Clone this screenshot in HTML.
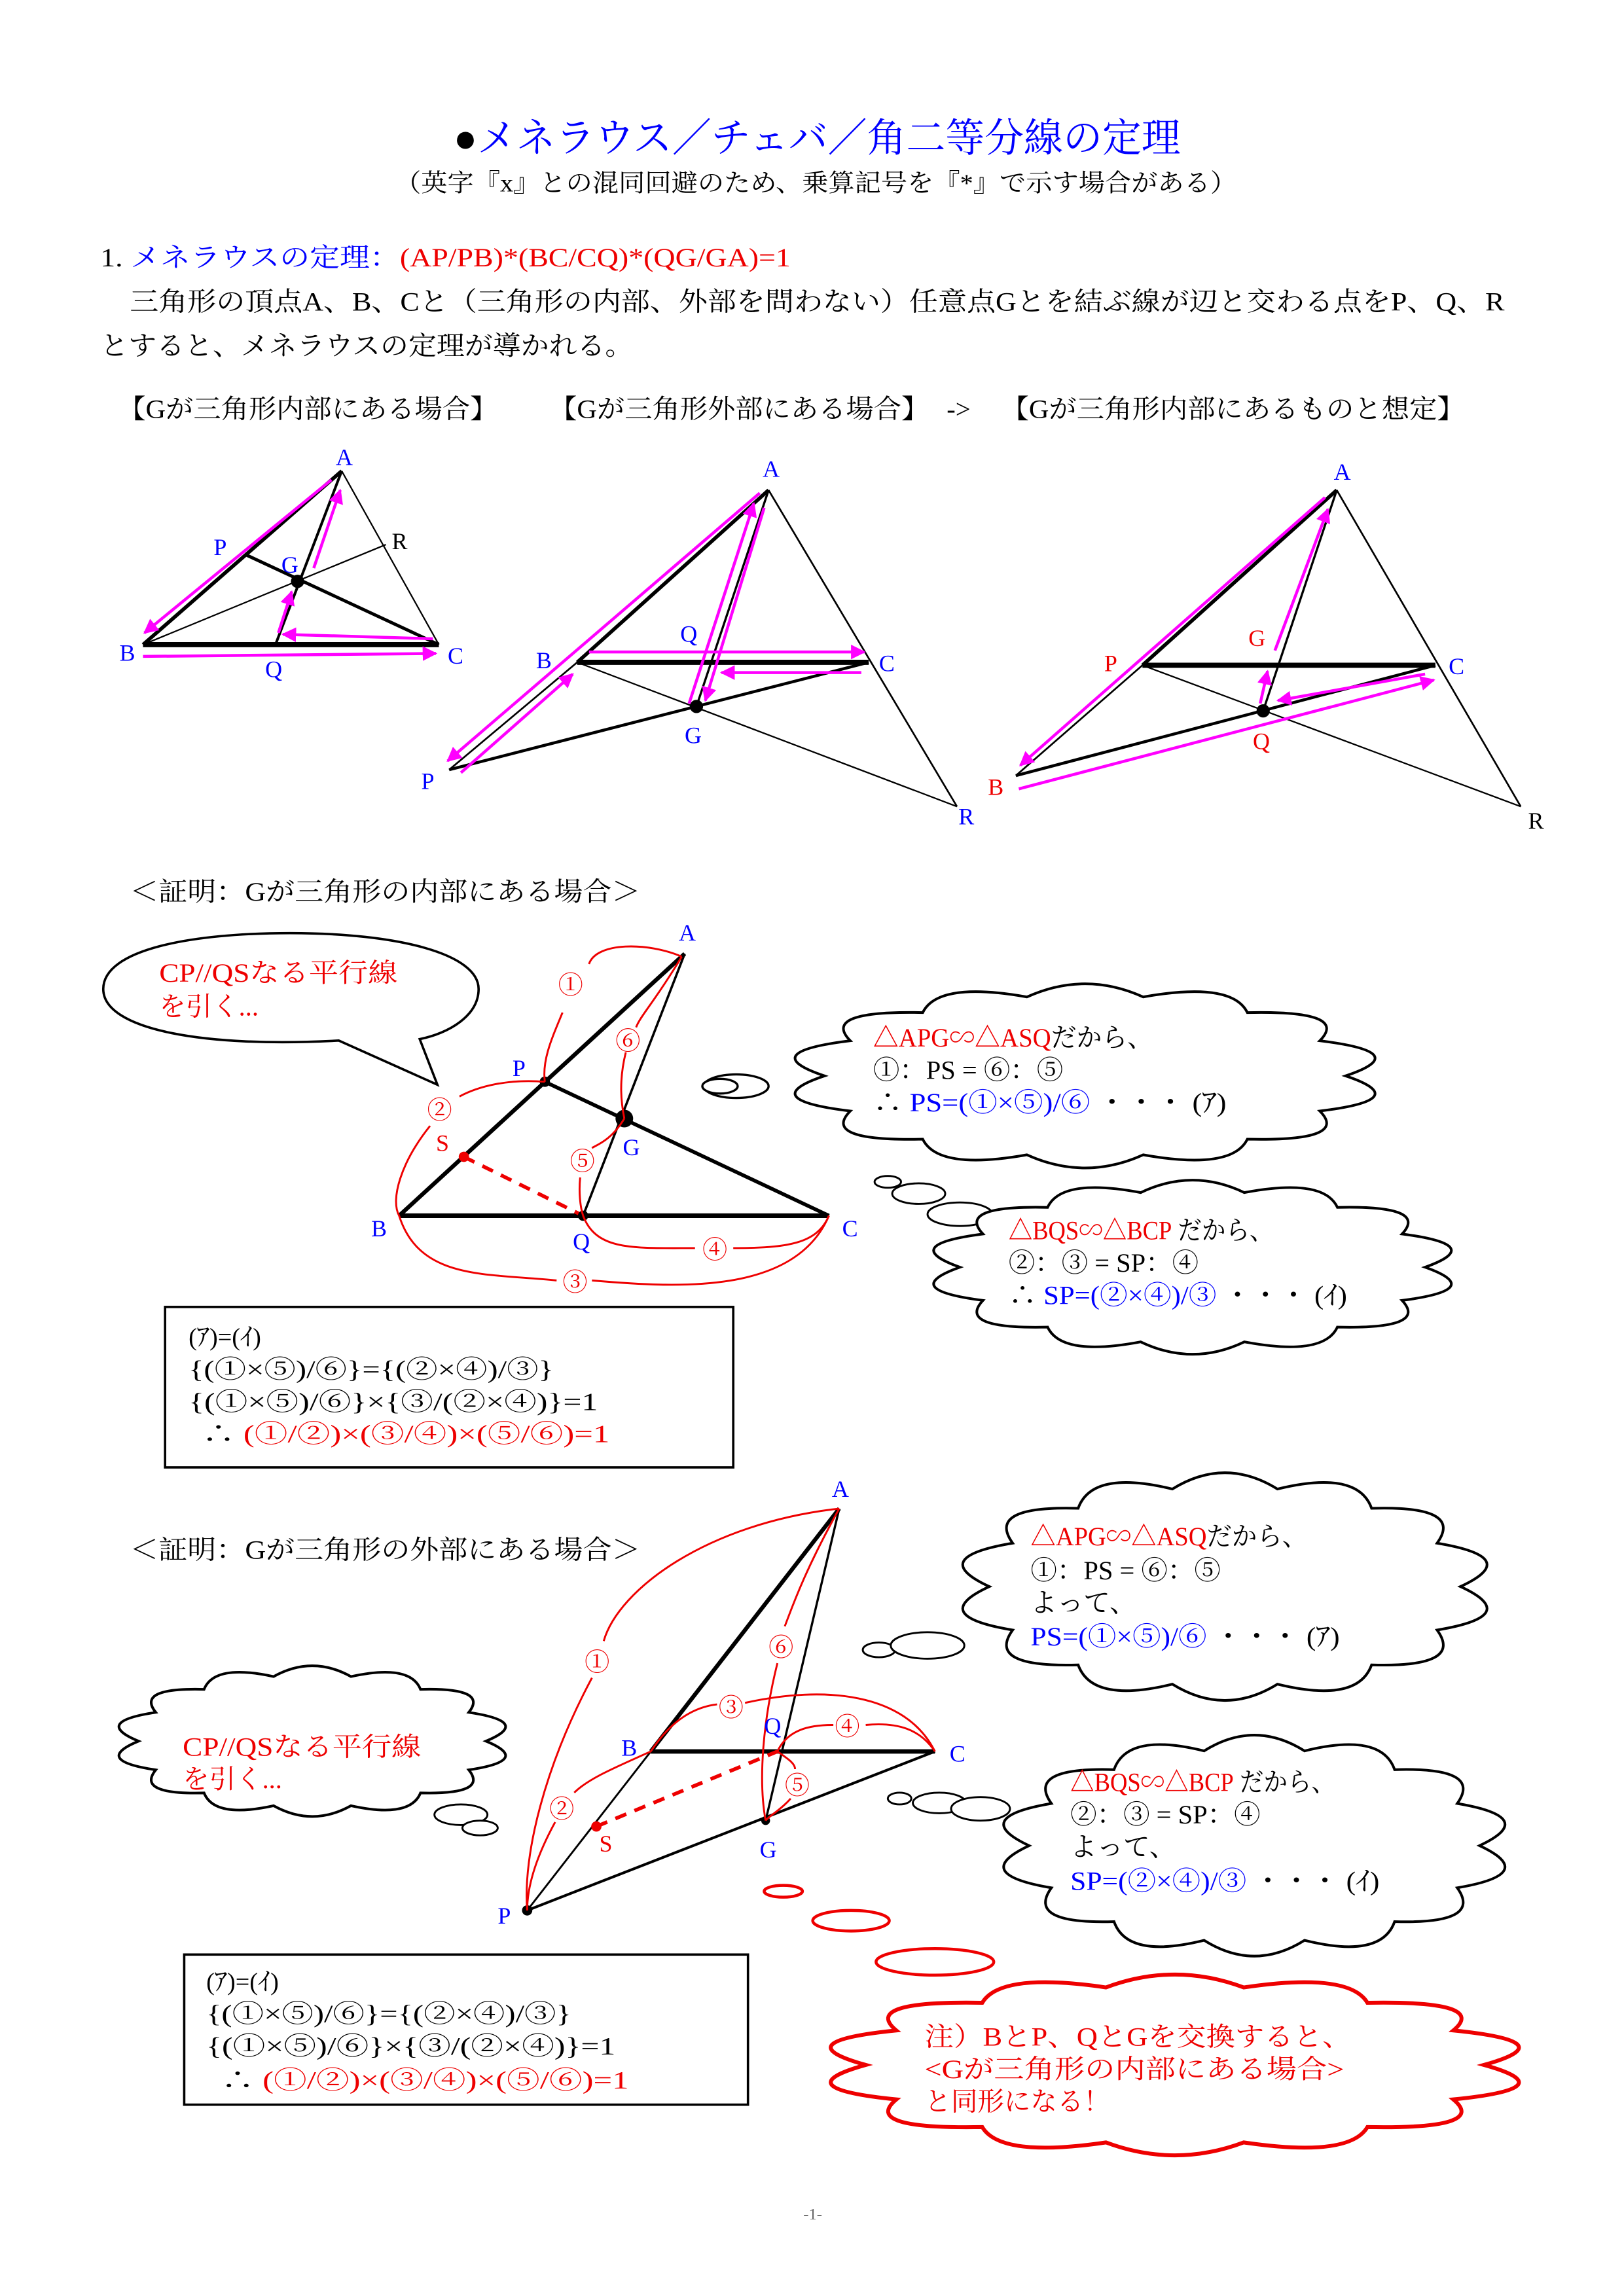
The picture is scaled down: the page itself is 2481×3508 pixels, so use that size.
<!DOCTYPE html>
<html><head><meta charset="utf-8">
<style>
html,body{margin:0;padding:0;background:#fff;}
svg{display:block;}
text{font-family:"Liberation Serif","Noto Serif CJK SC","Noto Sans CJK JP",serif;}
.cl{vector-effect:non-scaling-stroke;}
</style></head>
<body>
<svg width="2481" height="3508" viewBox="0 0 1103 1560" xmlns="http://www.w3.org/2000/svg">
<defs>
<marker id="ah" viewBox="0 0 10 10" refX="9" refY="5" markerWidth="5" markerHeight="5" orient="auto"><path d="M0,0 L10,5 L0,10 z" fill="#f0f"/></marker>
</defs>

<text x="308" y="103" font-size="27" fill="#00f" textLength="494" lengthAdjust="spacingAndGlyphs"><tspan fill="#000">●</tspan>メネラウス／チェバ／角二等分線の定理</text>
<text x="268" y="130" font-size="17" fill="#000" textLength="572" lengthAdjust="spacingAndGlyphs">（英字『x』との混同回避のため、乗算記号を『*』で示す場合がある）</text>

<text x="68" y="181" font-size="18" textLength="469" lengthAdjust="spacingAndGlyphs"><tspan fill="#000">1. </tspan><tspan fill="#00f">メネラウスの定理：</tspan><tspan fill="#e00">(AP/PB)*(BC/CQ)*(QG/GA)=1</tspan></text>
<text x="88" y="211" font-size="18" textLength="934" lengthAdjust="spacingAndGlyphs">三角形の頂点A、B、Cと（三角形の内部、外部を問わない）任意点Gとを結ぶ線が辺と交わる点をP、Q、R</text>
<text x="68" y="241" font-size="18" textLength="362" lengthAdjust="spacingAndGlyphs">とすると、メネラウスの定理が導かれる。</text>

<text x="80" y="284" font-size="18" textLength="258" lengthAdjust="spacingAndGlyphs">【Gが三角形内部にある場合】</text>
<text x="373" y="284" font-size="18" textLength="258" lengthAdjust="spacingAndGlyphs">【Gが三角形外部にある場合】</text>
<text x="643" y="284" font-size="18">-&gt;</text>
<text x="680" y="284" font-size="18" textLength="315" lengthAdjust="spacingAndGlyphs">【Gが三角形内部にあるものと想定】</text>

<g font-size="16" fill="#00f">
<g stroke="#000" fill="none">
<line x1="232" y1="320" x2="97" y2="438" stroke-width="2.5"/>
<line x1="97" y1="438" x2="298" y2="438" stroke-width="3.5"/>
<line x1="232" y1="320" x2="298" y2="438" stroke-width="1"/>
<line x1="167" y1="377" x2="298" y2="438" stroke-width="2.2"/>
<line x1="232" y1="320" x2="187" y2="438" stroke-width="1.8"/>
<line x1="97" y1="438" x2="262" y2="370" stroke-width="1"/>
</g>
<circle cx="202" cy="395" r="4.5" fill="#000"/>
<g stroke="#f0f" stroke-width="2" fill="none" marker-end="url(#ah)">
<line x1="225" y1="326" x2="98" y2="430"/>
<line x1="213" y1="386" x2="231" y2="333"/>
<line x1="189" y1="430" x2="198" y2="402"/>
<line x1="294" y1="434" x2="192" y2="431"/>
<line x1="97" y1="446" x2="296" y2="444"/>
</g>
<text x="228" y="316">A</text><text x="145" y="377">P</text><text x="191" y="389">G</text>
<text x="266" y="373" fill="#000">R</text><text x="81" y="449">B</text><text x="180" y="460">Q</text><text x="304" y="451">C</text>

<g stroke="#000" fill="none">
<line x1="522" y1="333" x2="392" y2="450" stroke-width="2.5"/>
<line x1="392" y1="450" x2="305" y2="523" stroke-width="1.2"/>
<line x1="392" y1="450" x2="590" y2="450" stroke-width="3.5"/>
<line x1="305" y1="523" x2="590" y2="450" stroke-width="2"/>
<line x1="522" y1="333" x2="473" y2="480" stroke-width="1.5"/>
<line x1="392" y1="450" x2="650" y2="548" stroke-width="1"/>
<line x1="522" y1="333" x2="650" y2="548" stroke-width="1.2"/>
</g>
<circle cx="473" cy="480" r="4.5" fill="#000"/>
<g stroke="#f0f" stroke-width="2" fill="none" marker-end="url(#ah)">
<line x1="516" y1="335" x2="304" y2="517"/>
<line x1="313" y1="525" x2="389" y2="458"/>
<line x1="400" y1="443" x2="587" y2="443"/>
<line x1="585" y1="457" x2="490" y2="457"/>
<line x1="468" y1="478" x2="512" y2="342"/>
<line x1="519" y1="345" x2="479" y2="476"/>
</g>
<text x="518" y="324">A</text><text x="364" y="454">B</text><text x="462" y="436">Q</text>
<text x="597" y="456">C</text><text x="465" y="505">G</text><text x="286" y="536">P</text><text x="651" y="560">R</text>

<g stroke="#000" fill="none">
<line x1="908" y1="333" x2="776" y2="452" stroke-width="2.5"/>
<line x1="776" y1="452" x2="690" y2="527" stroke-width="1.2"/>
<line x1="776" y1="452" x2="975" y2="452" stroke-width="3.5"/>
<line x1="690" y1="527" x2="975" y2="452" stroke-width="2"/>
<line x1="908" y1="333" x2="858" y2="483" stroke-width="1.5"/>
<line x1="776" y1="452" x2="1033" y2="548" stroke-width="1"/>
<line x1="908" y1="333" x2="1033" y2="548" stroke-width="1.2"/>
</g>
<circle cx="858" cy="483" r="4.5" fill="#000"/>
<g stroke="#f0f" stroke-width="2" fill="none" marker-end="url(#ah)">
<line x1="900" y1="338" x2="693" y2="520"/>
<line x1="692" y1="536" x2="974" y2="462"/>
<line x1="968" y1="458" x2="868" y2="476"/>
<line x1="856" y1="478" x2="861" y2="456"/>
<line x1="866" y1="442" x2="902" y2="346"/>
</g>
<text x="906" y="326">A</text><text x="848" y="439" fill="#e00">G</text><text x="750" y="456" fill="#e00">P</text>
<text x="984" y="458">C</text><text x="851" y="509" fill="#e00">Q</text><text x="671" y="540" fill="#e00">B</text><text x="1038" y="563" fill="#000">R</text>
</g>

<text x="88" y="612" font-size="18" textLength="347" lengthAdjust="spacingAndGlyphs">＜証明：Gが三角形の内部にある場合＞</text>

<path d="M230,707 C140,712 70,700 70,672 C70,645 130,634 197,634 C270,634 325,648 325,672 C325,690 305,702 285,706 L297,737 Z" fill="#fff" stroke="#000" stroke-width="1.6"/>
<text x="108" y="667" font-size="18" fill="#e00" textLength="162" lengthAdjust="spacingAndGlyphs">CP//QSなる平行線</text>
<text x="108" y="690" font-size="18" fill="#e00">を引く...</text>

<g stroke="#000" fill="none">
<line x1="465" y1="648" x2="271" y2="826" stroke-width="2.8"/>
<line x1="271" y1="826" x2="563" y2="826" stroke-width="3.2"/>
<line x1="370" y1="735" x2="563" y2="826" stroke-width="2.5"/>
<line x1="465" y1="648" x2="396" y2="826" stroke-width="1.6"/>
</g>
<line x1="315" y1="786" x2="396" y2="826" stroke="#e00" stroke-width="2.5" stroke-dasharray="8,6"/>
<circle cx="370" cy="735" r="3.5" fill="#000"/>
<circle cx="424" cy="760" r="6" fill="#000"/>
<circle cx="396" cy="826" r="3.5" fill="#000"/>
<circle cx="315" cy="786" r="3.5" fill="#e00"/>
<g stroke="#e00" stroke-width="1.3" fill="none">
<path d="M463,650 C440,640 405,640 400,655"/>
<path d="M382,688 C375,705 368,720 370,735"/>
<path d="M463,650 C445,680 435,690 432,698"/>
<path d="M425,715 C420,735 422,750 424,760"/>
<path d="M370,735 C345,733 325,738 312,745"/>
<path d="M292,765 C272,790 265,815 271,826"/>
<path d="M271,826 C285,870 330,865 378,870"/>
<path d="M402,870 C460,875 540,880 563,826"/>
<path d="M396,826 C405,850 430,848 472,848"/>
<path d="M498,848 C535,848 555,845 563,826"/>
<path d="M424,760 C415,775 405,778 402,780"/>
<path d="M394,800 C393,810 394,820 396,826"/>
</g>
<g font-size="17" fill="#e00">
<text x="379" y="675">①</text><text x="418" y="713">⑥</text><text x="290" y="760">②</text>
<text x="387" y="795">⑤</text><text x="477" y="855">④</text><text x="382" y="877">③</text>
</g>
<g font-size="16" fill="#00f">
<text x="461" y="639">A</text><text x="348" y="731">P</text><text x="423" y="785">G</text>
<text x="296" y="782" fill="#e00">S</text><text x="252" y="840">B</text><text x="389" y="849">Q</text><text x="572" y="840">C</text>
</g>

<ellipse cx="500" cy="738" rx="22" ry="8" fill="#fff" stroke="#000" stroke-width="1.5"/>
<ellipse cx="489" cy="738" rx="12" ry="5" fill="#fff" stroke="#000" stroke-width="1.5"/>
<path class="cl" transform="translate(737,731) scale(177,55)" fill="#fff" stroke="#000" stroke-width="4" d="M1,0 Q1.268,.290 .901,.434 Q1.017,.810 .623,.782 Q.564,1.171 .223,.975 Q0,1.3 -.223,.975 Q-.564,1.171 -.623,.782 Q-1.017,.810 -.901,.434 Q-1.268,.290 -1,0 Q-1.268,-.290 -.901,-.434 Q-1.017,-.810 -.623,-.782 Q-.564,-1.171 -.223,-.975 Q0,-1.3 .223,-.975 Q.564,-1.171 .623,-.782 Q1.017,-.810 .901,-.434 Q1.268,-.290 1,0 Z"/>
<text x="593" y="711" font-size="18" textLength="190" lengthAdjust="spacingAndGlyphs"><tspan fill="#e00">△APG∽△ASQ</tspan>だから、</text>
<text x="593" y="733" font-size="18">①：PS = ⑥：⑤</text>
<text x="593" y="755" font-size="18" textLength="240" lengthAdjust="spacingAndGlyphs">∴ <tspan fill="#00f">PS=(①×⑤)/⑥</tspan> ・・・ (ｱ)</text>

<ellipse cx="603" cy="803" rx="9" ry="4" fill="#fff" stroke="#000" stroke-width="1.3"/>
<ellipse cx="624" cy="811" rx="18" ry="7" fill="#fff" stroke="#000" stroke-width="1.3"/>
<ellipse cx="652" cy="825" rx="22" ry="8" fill="#fff" stroke="#000" stroke-width="1.3"/>
<path class="cl" transform="translate(810,861) scale(158,52)" fill="#fff" stroke="#000" stroke-width="4" d="M1,0 Q1.268,.290 .901,.434 Q1.017,.810 .623,.782 Q.564,1.171 .223,.975 Q0,1.3 -.223,.975 Q-.564,1.171 -.623,.782 Q-1.017,.810 -.901,.434 Q-1.268,.290 -1,0 Q-1.268,-.290 -.901,-.434 Q-1.017,-.810 -.623,-.782 Q-.564,-1.171 -.223,-.975 Q0,-1.3 .223,-.975 Q.564,-1.171 .623,-.782 Q1.017,-.810 .901,-.434 Q1.268,-.290 1,0 Z"/>
<text x="685" y="842" font-size="18" textLength="180" lengthAdjust="spacingAndGlyphs"><tspan fill="#e00">△BQS∽△BCP</tspan> だから、</text>
<text x="685" y="864" font-size="18">②：③ = SP：④</text>
<text x="685" y="886" font-size="18" textLength="230" lengthAdjust="spacingAndGlyphs">∴ <tspan fill="#00f">SP=(②×④)/③</tspan> ・・・ (ｲ)</text>

<rect x="112" y="888" width="386" height="109" fill="none" stroke="#000" stroke-width="1.6"/>
<g font-size="17">
<text x="128" y="914">(ｱ)=(ｲ)</text>
<text x="128" y="936" textLength="248" lengthAdjust="spacingAndGlyphs">{(①×⑤)/⑥}={(②×④)/③}</text>
<text x="128" y="958" textLength="278" lengthAdjust="spacingAndGlyphs">{(①×⑤)/⑥}×{③/(②×④)}=1</text>
<text x="137" y="980" textLength="277" lengthAdjust="spacingAndGlyphs">∴ <tspan fill="#e00">(①/②)×(③/④)×(⑤/⑥)=1</tspan></text>
</g>

<text x="88" y="1059" font-size="18" textLength="347" lengthAdjust="spacingAndGlyphs">＜証明：Gが三角形の外部にある場合＞</text>

<g stroke="#000" fill="none">
<line x1="570" y1="1025" x2="442" y2="1190" stroke-width="2.8"/>
<line x1="442" y1="1190" x2="635" y2="1190" stroke-width="3"/>
<line x1="442" y1="1190" x2="358" y2="1298" stroke-width="1.3"/>
<line x1="358" y1="1298" x2="635" y2="1190" stroke-width="1.8"/>
<line x1="570" y1="1025" x2="520" y2="1237" stroke-width="1.5"/>
</g>
<line x1="405" y1="1241" x2="528" y2="1190" stroke="#e00" stroke-width="2.5" stroke-dasharray="8,6"/>
<circle cx="358" cy="1298" r="3.5" fill="#000"/>
<circle cx="405" cy="1241" r="3.5" fill="#e00"/>
<circle cx="520" cy="1237" r="3" fill="#000"/>
<g stroke="#e00" stroke-width="1.3" fill="none">
<path d="M570,1025 C480,1035 420,1080 410,1115"/>
<path d="M402,1140 C370,1200 355,1260 358,1298"/>
<path d="M570,1025 C545,1070 537,1095 533,1105"/>
<path d="M528,1130 C518,1170 515,1210 520,1237"/>
<path d="M442,1190 C455,1170 470,1160 487,1158"/>
<path d="M506,1157 C560,1145 615,1150 635,1190"/>
<path d="M528,1190 C535,1175 550,1172 566,1172"/>
<path d="M588,1172 C610,1170 625,1175 635,1190"/>
<path d="M528,1190 C535,1195 540,1198 540,1202"/>
<path d="M537,1222 C530,1230 522,1234 520,1237"/>
<path d="M442,1190 C420,1200 400,1208 390,1218"/>
<path d="M377,1238 C365,1260 358,1280 358,1298"/>
</g>
<g font-size="17" fill="#e00">
<text x="397" y="1135">①</text><text x="522" y="1125">⑥</text><text x="488" y="1166">③</text>
<text x="567" y="1179">④</text><text x="533" y="1219">⑤</text><text x="373" y="1235">②</text>
</g>
<g font-size="16" fill="#00f">
<text x="565" y="1017">A</text><text x="422" y="1193">B</text><text x="645" y="1197">C</text>
<text x="519" y="1178">Q</text><text x="516" y="1262">G</text><text x="338" y="1307">P</text>
<text x="407" y="1258" fill="#e00">S</text>
</g>

<ellipse cx="597" cy="1121" rx="11" ry="5" fill="#fff" stroke="#000" stroke-width="1.3"/>
<ellipse cx="630" cy="1118" rx="25" ry="9" fill="#fff" stroke="#000" stroke-width="1.3"/>
<path class="cl" transform="translate(832,1078) scale(160,68)" fill="#fff" stroke="#000" stroke-width="4" d="M1,0 Q1.268,.290 .901,.434 Q1.017,.810 .623,.782 Q.564,1.171 .223,.975 Q0,1.3 -.223,.975 Q-.564,1.171 -.623,.782 Q-1.017,.810 -.901,.434 Q-1.268,.290 -1,0 Q-1.268,-.290 -.901,-.434 Q-1.017,-.810 -.623,-.782 Q-.564,-1.171 -.223,-.975 Q0,-1.3 .223,-.975 Q.564,-1.171 .623,-.782 Q1.017,-.810 .901,-.434 Q1.268,-.290 1,0 Z"/>
<text x="700" y="1050" font-size="18" textLength="188" lengthAdjust="spacingAndGlyphs"><tspan fill="#e00">△APG∽△ASQ</tspan>だから、</text>
<text x="700" y="1073" font-size="18">①：PS = ⑥：⑤</text>
<text x="700" y="1095" font-size="18">よって、</text>
<text x="700" y="1118" font-size="18" textLength="210" lengthAdjust="spacingAndGlyphs"><tspan fill="#00f">PS=(①×⑤)/⑥</tspan> ・・・ (ｱ)</text>

<path class="cl" transform="translate(212,1183) scale(118,45)" fill="#fff" stroke="#000" stroke-width="4" d="M1,0 Q1.268,.290 .901,.434 Q1.017,.810 .623,.782 Q.564,1.171 .223,.975 Q0,1.3 -.223,.975 Q-.564,1.171 -.623,.782 Q-1.017,.810 -.901,.434 Q-1.268,.290 -1,0 Q-1.268,-.290 -.901,-.434 Q-1.017,-.810 -.623,-.782 Q-.564,-1.171 -.223,-.975 Q0,-1.3 .223,-.975 Q.564,-1.171 .623,-.782 Q1.017,-.810 .901,-.434 Q1.268,-.290 1,0 Z"/>
<ellipse cx="313" cy="1233" rx="18" ry="7" fill="#fff" stroke="#000" stroke-width="1.3"/>
<ellipse cx="326" cy="1242" rx="12" ry="5" fill="#fff" stroke="#000" stroke-width="1.3"/>
<text x="124" y="1193" font-size="18" fill="#e00" textLength="162" lengthAdjust="spacingAndGlyphs">CP//QSなる平行線</text>
<text x="124" y="1215" font-size="18" fill="#e00">を引く...</text>

<ellipse cx="611" cy="1222" rx="8" ry="4" fill="#fff" stroke="#000" stroke-width="1.3"/>
<ellipse cx="638" cy="1225" rx="18" ry="7" fill="#fff" stroke="#000" stroke-width="1.3"/>
<ellipse cx="666" cy="1229" rx="20" ry="8" fill="#fff" stroke="#000" stroke-width="1.3"/>
<path class="cl" transform="translate(852,1254) scale(153,66)" fill="#fff" stroke="#000" stroke-width="4" d="M1,0 Q1.268,.290 .901,.434 Q1.017,.810 .623,.782 Q.564,1.171 .223,.975 Q0,1.3 -.223,.975 Q-.564,1.171 -.623,.782 Q-1.017,.810 -.901,.434 Q-1.268,.290 -1,0 Q-1.268,-.290 -.901,-.434 Q-1.017,-.810 -.623,-.782 Q-.564,-1.171 -.223,-.975 Q0,-1.3 .223,-.975 Q.564,-1.171 .623,-.782 Q1.017,-.810 .901,-.434 Q1.268,-.290 1,0 Z"/>
<text x="727" y="1217" font-size="18" textLength="180" lengthAdjust="spacingAndGlyphs"><tspan fill="#e00">△BQS∽△BCP</tspan> だから、</text>
<text x="727" y="1239" font-size="18">②：③ = SP：④</text>
<text x="727" y="1261" font-size="18">よって、</text>
<text x="727" y="1284" font-size="18" textLength="210" lengthAdjust="spacingAndGlyphs"><tspan fill="#00f">SP=(②×④)/③</tspan> ・・・ (ｲ)</text>

<rect x="125" y="1328" width="383" height="102" fill="none" stroke="#000" stroke-width="1.6"/>
<g font-size="17">
<text x="140" y="1352">(ｱ)=(ｲ)</text>
<text x="140" y="1374" textLength="248" lengthAdjust="spacingAndGlyphs">{(①×⑤)/⑥}={(②×④)/③}</text>
<text x="140" y="1396" textLength="278" lengthAdjust="spacingAndGlyphs">{(①×⑤)/⑥}×{③/(②×④)}=1</text>
<text x="150" y="1419" textLength="277" lengthAdjust="spacingAndGlyphs">∴ <tspan fill="#e00">(①/②)×(③/④)×(⑤/⑥)=1</tspan></text>
</g>

<ellipse cx="532" cy="1285" rx="13" ry="4" fill="#fff" stroke="#e00" stroke-width="2"/>
<ellipse cx="578" cy="1305" rx="26" ry="7" fill="#fff" stroke="#e00" stroke-width="2"/>
<ellipse cx="635" cy="1333" rx="40" ry="9" fill="#fff" stroke="#e00" stroke-width="2"/>
<path class="cl" transform="translate(798,1403) scale(210,54)" fill="#fff" stroke="#e00" stroke-width="6" d="M1,0 Q1.268,.290 .901,.434 Q1.017,.810 .623,.782 Q.564,1.171 .223,.975 Q0,1.3 -.223,.975 Q-.564,1.171 -.623,.782 Q-1.017,.810 -.901,.434 Q-1.268,.290 -1,0 Q-1.268,-.290 -.901,-.434 Q-1.017,-.810 -.623,-.782 Q-.564,-1.171 -.223,-.975 Q0,-1.3 .223,-.975 Q.564,-1.171 .623,-.782 Q1.017,-.810 .901,-.434 Q1.268,-.290 1,0 Z"/>
<g font-size="18" fill="#e00">
<text x="628" y="1390" textLength="290" lengthAdjust="spacingAndGlyphs">注）BとP、QとGを交換すると、</text>
<text x="628" y="1412" textLength="285" lengthAdjust="spacingAndGlyphs">&lt;Gが三角形の内部にある場合&gt;</text>
<text x="628" y="1434">と同形になる！</text>
</g>

<text x="552" y="1508" font-size="11" fill="#666" text-anchor="middle">-1-</text>
</svg>
</body></html>
